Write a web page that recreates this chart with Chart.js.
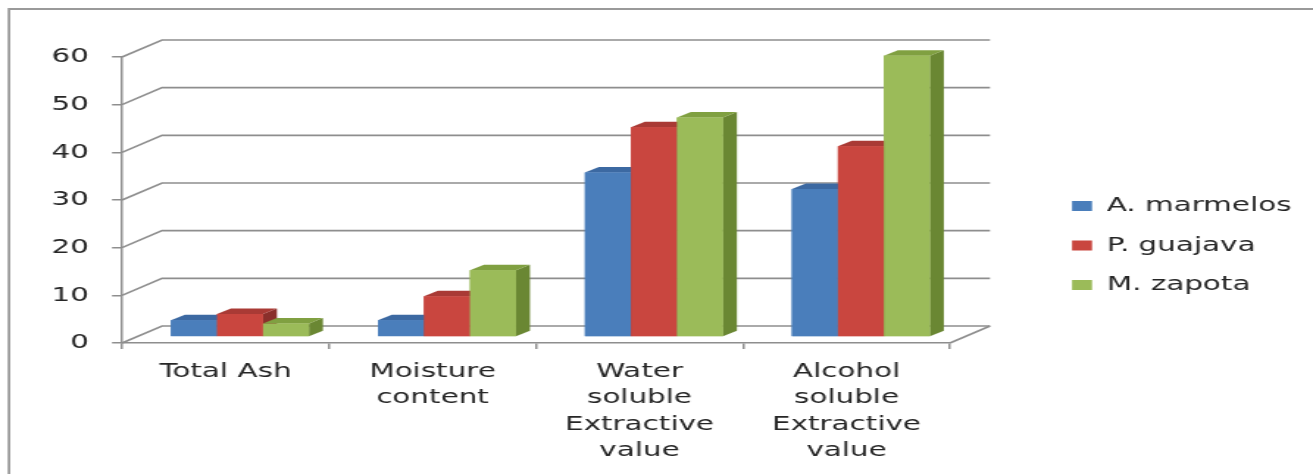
<!DOCTYPE html>
<html>
<head>
<meta charset="utf-8">
<script src="https://cdn.jsdelivr.net/npm/chart.js@4"></script>
<style>
html,body{margin:0;padding:0;background:#fff;overflow:hidden}
canvas{display:block}
</style>
</head>
<body>
<canvas id="c" width="893" height="474" style="width:1313px;height:474px"></canvas>
<script>
// ---- data ----
const categories = ['Total Ash', ['Moisture', 'content'], ['Water', 'soluble', 'Extractive', 'value'], ['Alcohol', 'soluble', 'Extractive', 'value']];
const seriesNames = ['A. marmelos', 'P. guajava', 'M. zapota'];
const aMarmelos = [3.5, 3.5, 34.5, 31];
const pGuajava = [4.8, 8.5, 44, 40];
const mZapota = [2.8, 14, 46, 59];
const yTickValues = [0, 10, 20, 30, 40, 50, 60];

// ---- styles ----
const frontColors = ['#4A7EBB', '#C9463F', '#9BBB59'];
const topColors = ['#3C69A2', '#A93A35', '#80A041'];
const sideColors = ['#2F5382', '#8A2F2B', '#6A8733'];
const S = 1313 / 893;
const WALL_DX = 40 / S, WALL_DY = -17;
const BAR_FRAC = 0.36;
const BAR_DX = 9.5, BAR_DY = -5.5;
const GRID = '#8e8e8e';
const TEXT = '#262626';

const threeD = {
  id: 'threeD',
  afterLayout(chart) {
    const lg = chart.legend;
    lg.left = 709.6; lg.width = 180; lg.right = lg.left + lg.width;
    lg.top = 17; lg.bottom = 474; lg.height = lg.bottom - lg.top;
  },
  beforeDraw(chart) {
    const ctx = chart.ctx;
    ctx.save();
    ctx.strokeStyle = '#9a9a9a'; ctx.lineWidth = 1.8;
    ctx.beginPath(); ctx.moveTo(6.1, 480); ctx.lineTo(6.1, 9); ctx.lineTo(900, 9); ctx.stroke();
    ctx.restore();
  },
  beforeDatasetsDraw(chart) {
    const {ctx, chartArea: a, scales: {y}} = chart;
    ctx.save();
    ctx.strokeStyle = GRID; ctx.lineWidth = 1.6;
    y.ticks.forEach(t => {
      const py = y.getPixelForValue(t.value);
      ctx.beginPath();
      ctx.moveTo(a.left, py);
      ctx.lineTo(a.left + WALL_DX, py + WALL_DY);
      ctx.lineTo(a.right + WALL_DX, py + WALL_DY);
      ctx.stroke();
    });
    const p0 = y.getPixelForValue(0);
    ctx.beginPath(); ctx.moveTo(a.right, p0); ctx.lineTo(a.right + WALL_DX, p0 + WALL_DY); ctx.stroke();
    ctx.restore();
    ctx.save();
    ctx.translate(WALL_DX * BAR_FRAC, WALL_DY * BAR_FRAC);
  },
  afterDatasetsDraw(chart) {
    const ctx = chart.ctx;
    const n = chart.data.labels.length;
    const nd = chart.data.datasets.length;
    for (let j = 0; j < n; j++) {
      for (let i = 0; i < nd; i++) {
        const el = chart.getDatasetMeta(i).data[j];
        const {x, y, base, width} = el.getProps(['x', 'y', 'base', 'width'], true);
        const l = x - width / 2, r = x + width / 2;
        ctx.fillStyle = sideColors[i];
        ctx.beginPath();
        ctx.moveTo(r, y); ctx.lineTo(r + BAR_DX, y + BAR_DY); ctx.lineTo(r + BAR_DX, base + BAR_DY); ctx.lineTo(r, base);
        ctx.closePath(); ctx.fill();
        ctx.fillStyle = topColors[i];
        ctx.beginPath();
        ctx.moveTo(l, y); ctx.lineTo(l + BAR_DX, y + BAR_DY); ctx.lineTo(r + BAR_DX, y + BAR_DY); ctx.lineTo(r, y);
        ctx.closePath(); ctx.fill();
        ctx.fillStyle = frontColors[i];
        ctx.fillRect(l, y, width, base - y);
      }
    }
    ctx.restore();
  }
};

Chart.defaults.font.family = "'DejaVu Sans', sans-serif";
Chart.defaults.font.size = 20;
Chart.defaults.color = TEXT;

new Chart(document.getElementById('c'), {
  type: 'bar',
  data: {
    labels: categories,
    datasets: [
      {label: seriesNames[0], data: aMarmelos, backgroundColor: frontColors[0]},
      {label: seriesNames[1], data: pGuajava, backgroundColor: frontColors[1]},
      {label: seriesNames[2], data: mZapota, backgroundColor: frontColors[2]}
    ]
  },
  options: {
    responsive: false,
    maintainAspectRatio: false,
    devicePixelRatio: 1,
    animation: false,
    events: [],
    layout: {padding: {top: 57, bottom: 0, left: 0, right: 96.9}},
    datasets: {bar: {categoryPercentage: 0.667, barPercentage: 1.0, borderWidth: 0, clip: false}},
    plugins: {
      tooltip: {enabled: false},
      title: {display: false},
      legend: {
        position: 'right',
        maxWidth: 150,
        labels: {boxWidth: 13.6, boxHeight: 10, padding: 19.5, color: TEXT, font: {size: 20}}
      }
    },
    scales: {
      x: {
        type: 'category',
        offset: true,
        afterFit(s) { s.height = 131; },
        grid: {display: true, drawOnChartArea: false, drawTicks: true, tickLength: 6, color: GRID, lineWidth: 1.5, offset: true},
        border: {display: true, color: GRID, width: 1.5},
        ticks: {padding: 9, maxRotation: 0, minRotation: 0, autoSkip: false, color: TEXT, font: {size: 20, lineHeight: 1.33}}
      },
      y: {
        min: 0, max: 60,
        afterFit(s) { s.width = 83; },
        afterBuildTicks(s) { s.ticks = yTickValues.map(v => ({value: v})); },
        grid: {display: true, drawOnChartArea: false, drawTicks: true, tickLength: 6.8, color: GRID, lineWidth: 1.5},
        border: {display: true, color: GRID, width: 1.5},
        ticks: {padding: 15.7, color: TEXT, font: {size: 20}}
      }
    }
  },
  plugins: [threeD]
});
</script>
</body>
</html>
